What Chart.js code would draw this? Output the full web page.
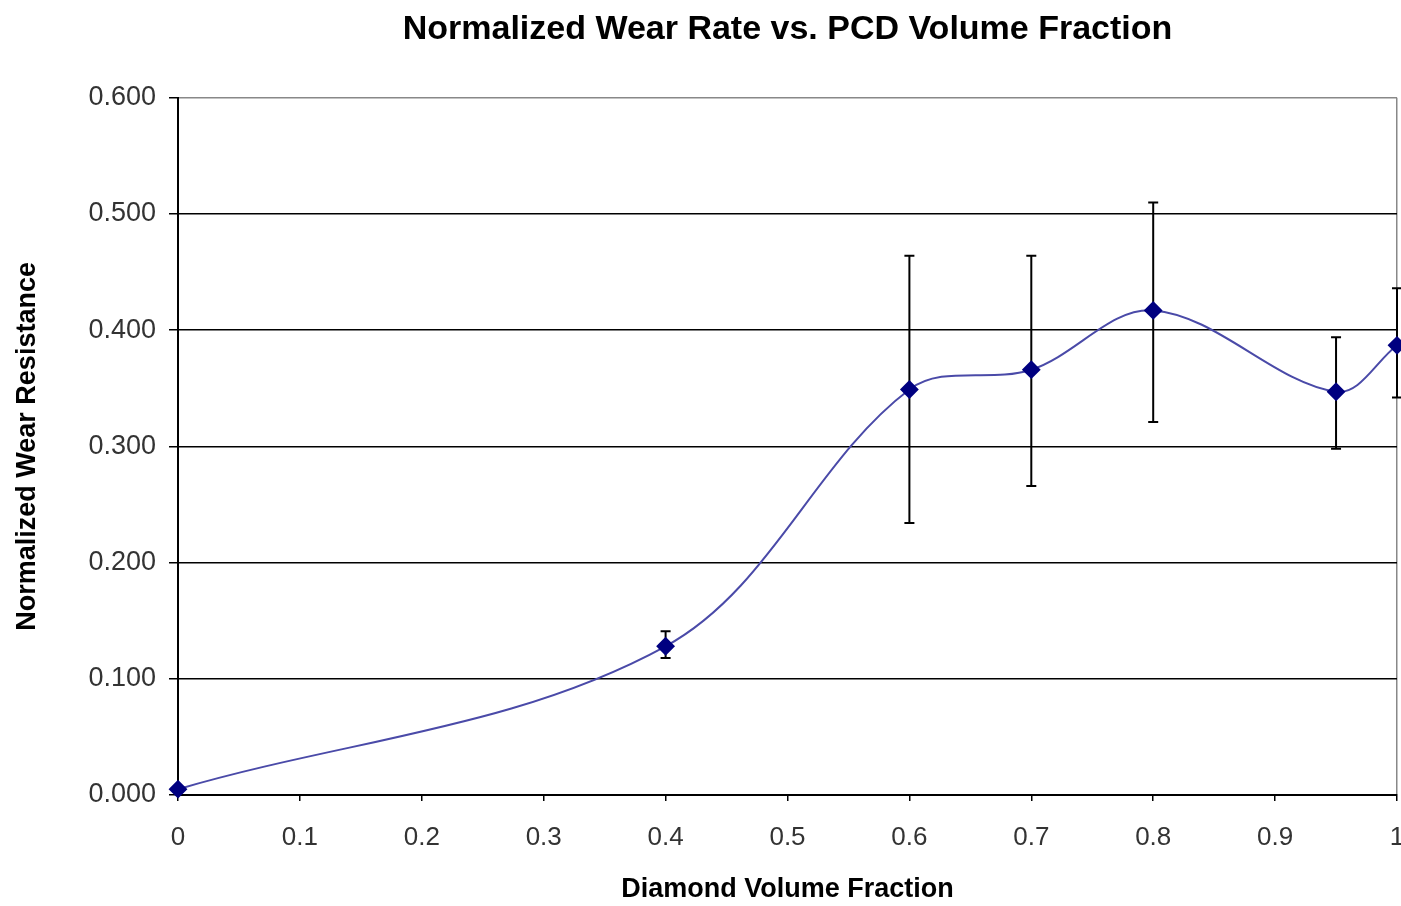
<!DOCTYPE html>
<html>
<head>
<meta charset="utf-8">
<script src="https://cdn.jsdelivr.net/npm/chart.js@4"></script>
<style>
  html, body { margin: 0; padding: 0; background: #fff; }
  #wrap { width: 1401px; height: 906px; }
</style>
</head>
<body>
<div id="wrap"><canvas id="chart" width="1401" height="906"></canvas></div>
<script>
// data
var volumeFraction = [0, 0.4, 0.6, 0.7, 0.8, 0.95, 1]
var wearResistance = [0.005, 0.128, 0.349, 0.366, 0.417, 0.347, 0.387]
var errLow  = [null, 0.118, 0.234, 0.266, 0.321, 0.298, 0.342]
var errHigh = [null, 0.141, 0.464, 0.464, 0.510, 0.394, 0.436]

var titleText = 'Normalized Wear Rate vs. PCD Volume Fraction'
var xTitle = 'Diamond Volume Fraction'
var yTitle = 'Normalized Wear Resistance'

var points = volumeFraction.map(function(v, i){ return {x: v, y: wearResistance[i]} })

var errorBars = {
  id: 'errorBars',
  beforeDatasetsDraw: function(chart){
    var ctx = chart.ctx
    var xs = chart.scales.x, ys = chart.scales.y
    ctx.save()
    ctx.strokeStyle = '#000'
    ctx.lineWidth = 2
    for (var i = 0; i < volumeFraction.length; i++) {
      if (errLow[i] == null) continue
      var px = xs.getPixelForValue(volumeFraction[i])
      var top = ys.getPixelForValue(errHigh[i])
      var bot = ys.getPixelForValue(errLow[i])
      ctx.beginPath()
      ctx.moveTo(px, top); ctx.lineTo(px, bot)
      ctx.moveTo(px - 5, top); ctx.lineTo(px + 5, top)
      ctx.moveTo(px - 5, bot); ctx.lineTo(px + 5, bot)
      ctx.stroke()
    }
    ctx.restore()
  }
}

var font = "'Liberation Sans', Arial, sans-serif"
Chart.defaults.font.family = font

new Chart(document.getElementById('chart').getContext('2d'), {
  type: 'scatter',
  data: {
    datasets: [{
      data: points,
      showLine: true,
      borderColor: '#4a4aa8',
      borderWidth: 2,
      tension: 0.35,
      pointStyle: 'rectRot',
      pointRadius: 8,
      pointBackgroundColor: '#000080',
      pointBorderColor: '#000080',
      clip: false
    }]
  },
  options: {
    responsive: false,
    animation: false,
    layout: {autoPadding: false, padding: {left: 6, right: 4, top: 0, bottom: 0}},
    plugins: {
      legend: {display: false},
      tooltip: {enabled: false},
      title: {
        display: true,
        fullSize: false,
        text: titleText,
        color: '#000',
        font: {size: 34, weight: 'bold'},
        padding: {top: 9, bottom: 48}
      }
    },
    scales: {
      x: {
        type: 'linear',
        min: 0, max: 1,
        afterFit: function(s){ s.height = 111; s.paddingRight = 0 },
        ticks: {
          stepSize: 0.1,
          color: '#333',
          font: {size: 26},
          padding: 21,
          callback: function(v){ return String(Math.round(v * 10) / 10) }
        },
        grid: {
          color: function(c){ return c.tick && c.tick.value === 1 ? '#888' : 'transparent' },
          tickColor: '#000',
          tickLength: 6,
          lineWidth: 1.5
        },
        border: {color: '#000', width: 2},
        title: {
          display: true,
          text: xTitle,
          color: '#000',
          font: {size: 27, weight: 'bold'},
          padding: {top: 0, bottom: 0}
        }
      },
      y: {
        min: 0, max: 0.6,
        afterFit: function(s){ s.width = 172 },
        ticks: {
          stepSize: 0.1,
          color: '#333',
          font: {size: 27},
          padding: 13,
          callback: function(v){ return v.toFixed(3) }
        },
        grid: {
          color: function(c){ return c.tick && Math.abs(c.tick.value - 0.6) < 1e-9 ? '#888' : '#000' },
          tickColor: '#000',
          tickLength: 9,
          lineWidth: 1.5
        },
        border: {color: '#000', width: 2},
        title: {
          display: true,
          text: yTitle,
          color: '#000',
          font: {size: 27, weight: 'bold'},
          padding: {top: 5, bottom: 0}
        }
      }
    }
  },
  plugins: [errorBars]
})
</script>
</body>
</html>
